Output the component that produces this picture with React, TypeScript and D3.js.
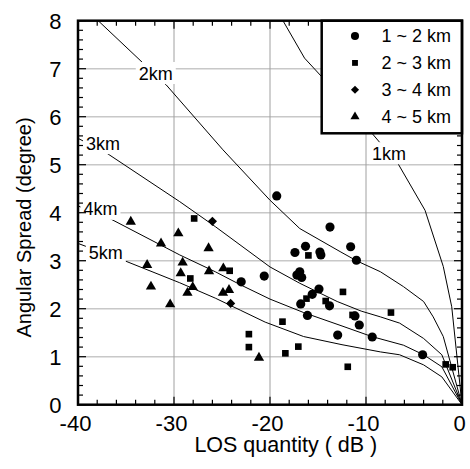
import React from 'react';
import * as d3 from 'd3';

// axis ticks
const xTicks = [-40, -30, -20, -10, 0];
const yTicks = [0, 1, 2, 3, 4, 5, 6, 7, 8];
const xGrid = [-30, -20, -10];
const yGrid = [1, 2, 3, 4, 5, 6, 7];

// measured points: [LOS quantity (dB), angular spread (deg)]
const range1to2: [number, number][] = [
  [-19.3, 4.35], [-13.75, 3.7], [-16.3, 3.3], [-17.4, 3.17], [-14.8, 3.18], [-14.7, 3.12],
  [-11.6, 3.29], [-11.0, 3.01], [-23.0, 2.56], [-20.6, 2.68], [-16.9, 2.77], [-17.2, 2.7],
  [-16.7, 2.65], [-14.9, 2.41], [-15.6, 2.3], [-16.8, 2.1], [-13.8, 2.06], [-16.1, 1.86],
  [-11.15, 1.85], [-10.7, 1.66], [-12.95, 1.45], [-9.35, 1.41], [-4.1, 1.04],
];
const range2to3: [number, number][] = [
  [-27.9, 3.88], [-28.3, 2.63], [-24.2, 2.79], [-16.0, 3.11], [-16.2, 2.21], [-14.2, 2.16],
  [-12.4, 2.35], [-11.4, 1.87], [-7.4, 1.92], [-18.7, 1.73], [-22.2, 1.47], [-22.2, 1.2],
  [-17.05, 1.21], [-18.4, 1.07], [-11.9, 0.79], [-1.7, 0.84], [-0.97, 0.78],
];
const range3to4: [number, number][] = [
  [-26.0, 3.82], [-24.1, 2.11],
];
const range4to5: [number, number][] = [
  [-34.5, 3.81], [-31.35, 3.36], [-29.55, 3.57], [-26.4, 3.26], [-32.8, 2.91], [-29.1, 2.96],
  [-29.3, 2.74], [-26.35, 2.78], [-32.4, 2.46], [-28.6, 2.33], [-28.05, 2.45], [-30.4, 2.09],
  [-24.86, 2.84], [-24.9, 2.33], [-24.27, 2.39], [-21.15, 0.98],
];
const legendLabels = ['1 ~ 2 km', '2 ~ 3 km', '3 ~ 4 km', '4 ~ 5 km'];

// distance curves
const curveNames = ['1km', '2km', '3km', '4km', '5km'];
const curve1km: [number, number][] = [
  [-18.65, 8], [-16.4, 7.22], [-14.6, 6.83], [-9.4, 5.66], [-6.6, 5.0], [-3.85, 4.05],
  [-1.95, 2.88], [-1.07, 2.04], [0, 0],
];
const curve2km: [number, number][] = [
  [-37.9, 8], [-30.8, 6.66], [-24.9, 5.31], [-20, 4.26], [-16.9, 3.67], [-12.7, 3.19],
  [-11, 3.0], [-8.5, 2.77], [-6.1, 2.46], [-4.0, 2.15], [-3.0, 1.83], [-1.95, 1.42], [0, 0],
];
const curve3km: [number, number][] = [
  [-40, 5.55], [-37, 5.24], [-29.4, 4.23], [-25.7, 3.71], [-20, 2.87], [-16.9, 2.53],
  [-13, 2.15], [-10.5, 1.95], [-8.5, 1.83], [-6.5, 1.7], [-4.0, 1.38], [-2.1, 1.04], [0, 0],
];
const curve4km: [number, number][] = [
  [-40, 4.14], [-36.7, 3.88], [-29.4, 3.12], [-25.7, 2.77], [-23.1, 2.5], [-20, 2.2],
  [-16.5, 1.92], [-12.5, 1.64], [-9.4, 1.42], [-6.1, 1.24], [-4.0, 1.04], [-2.1, 0.79], [0, 0],
];
const curve5km: [number, number][] = [
  [-40, 3.36], [-34.9, 2.98], [-29.4, 2.54], [-25.7, 2.22], [-23.1, 1.97], [-20.5, 1.72],
  [-16.5, 1.42], [-12.5, 1.25], [-8.5, 1.1], [-6.5, 1.04], [-4.0, 0.83], [-2.1, 0.58], [0, 0],
];
const curveLabelAt: [number, number][] = [
  [-7.6, 5.24], [-31.9, 6.91], [-37.4, 5.45], [-37.66, 4.08], [-37.1, 3.17],
];

const FONT = 'Liberation Sans, Arial, Helvetica, sans-serif';

export default function App() {
  const W = 470, H = 469;
  const left = 78, right = 462, top = 20.7, bottom = 404.7;
  const x = d3.scaleLinear().domain([-40, 0]).range([left, right]);
  const y = d3.scaleLinear().domain([0, 8]).range([bottom, top]);
  const line = d3.line<[number, number]>().x(d => x(d[0])).y(d => y(d[1]));

  const curves = [curve1km, curve2km, curve3km, curve4km, curve5km];
  const series = [range1to2, range2to3, range3to4, range4to5];

  const sym = (i: number, small: boolean) => {
    const k = small ? 0.78 : 1;
    if (i === 0) return d3.symbol().type(d3.symbolCircle).size(66 * k)()!;
    if (i === 1) return d3.symbol().type(d3.symbolSquare).size(44 * k)()!;
    if (i === 2) return d3.symbol().type(d3.symbolSquare).size(42 * k)()!;
    return d3.symbol().type(d3.symbolTriangle).size(46 * k)()!;
  };
  const rot = (i: number) => (i === 2 ? ' rotate(45)' : '');

  const yMinor = d3.range(0, 8.001, 0.2).map(v => +v.toFixed(1));
  const xMinor = d3.range(-40, 0.001, 2);

  return (
    <svg width={W} height={H} style={{ position: 'absolute', left: 0, top: 0, background: '#fff' }}
      fontFamily={FONT}>
      {/* grid */}
      {yGrid.map(v => (
        <line key={'gy' + v} x1={left} x2={right} y1={y(v)} y2={y(v)} stroke="#c8c8c8" strokeWidth={1.5} />
      ))}
      {xGrid.map(v => (
        <line key={'gx' + v} x1={x(v)} x2={x(v)} y1={top} y2={bottom} stroke="#a0a0a0" strokeWidth={1} />
      ))}

      {/* curves */}
      {curves.map((c, i) => (
        <path key={'c' + i} d={line(c)!} fill="none" stroke="#000" strokeWidth={1} />
      ))}
      {curveLabelAt.map((p, i) => (
        <g key={'cl' + i} transform={`translate(${x(p[0])},${y(p[1])})`}>
          <rect x={-20} y={-11} width={40} height={22} fill="#fff" />
          <text textAnchor="middle" dy="0.36em" fontSize={18}>{curveNames[i]}</text>
        </g>
      ))}

      {/* points */}
      {series.map((s, i) => s.map((p, j) => (
        <path key={`p${i}-${j}`} d={sym(i, false)} fill="#000"
          transform={`translate(${x(p[0])},${y(p[1])})${rot(i)}`} />
      )))}

      {/* ticks */}
      {yMinor.map(v => {
        const len = Number.isInteger(v) ? 8 : 5;
        return (
          <g key={'ty' + v}>
            <line x1={left} x2={left + len} y1={y(v)} y2={y(v)} stroke="#000" strokeWidth={1.2} />
            <line x1={right} x2={right - len} y1={y(v)} y2={y(v)} stroke="#000" strokeWidth={1.2} />
          </g>
        );
      })}
      {xMinor.map(v => {
        const len = v % 10 === 0 ? 8 : 5;
        return (
          <g key={'tx' + v}>
            <line x1={x(v)} x2={x(v)} y1={bottom} y2={bottom - len} stroke="#000" strokeWidth={1.2} />
            <line x1={x(v)} x2={x(v)} y1={top} y2={top + len} stroke="#000" strokeWidth={1.2} />
          </g>
        );
      })}

      {/* legend */}
      <rect x={321.7} y={top} width={right - 321.7} height={133.3 - top} fill="#fff" stroke="#000" strokeWidth={2.5} />
      {legendLabels.map((lab, i) => {
        const ly = 36 + i * 26.9;
        return (
          <g key={'lg' + i}>
            <path d={sym(i, true)} fill="#000" transform={`translate(355,${ly})${rot(i)}`} />
            <text x={381.5} y={ly} dy="0.36em" fontSize={18}>{lab}</text>
          </g>
        );
      })}

      {/* frame */}
      <rect x={left} y={top} width={right - left} height={bottom - top} fill="none" stroke="#000" strokeWidth={2.5} />

      {/* tick labels */}
      {yTicks.map(v => (
        <text key={'ly' + v} x={61.5} y={y(v)} dy="0.36em" textAnchor="end" fontSize={22}>{v}</text>
      ))}
      {xTicks.map(v => (
        <text key={'lx' + v} x={x(v) - 2.5} y={430.5} textAnchor="middle" fontSize={22}>{v}</text>
      ))}

      {/* axis titles */}
      <text x={285.8} y={451.5} textAnchor="middle" fontSize={21.5}>LOS quantity ( dB )</text>
      <text transform="translate(31,227.5) rotate(-90)" textAnchor="middle" fontSize={20}>Angular Spread (degree)</text>
    </svg>
  );
}
